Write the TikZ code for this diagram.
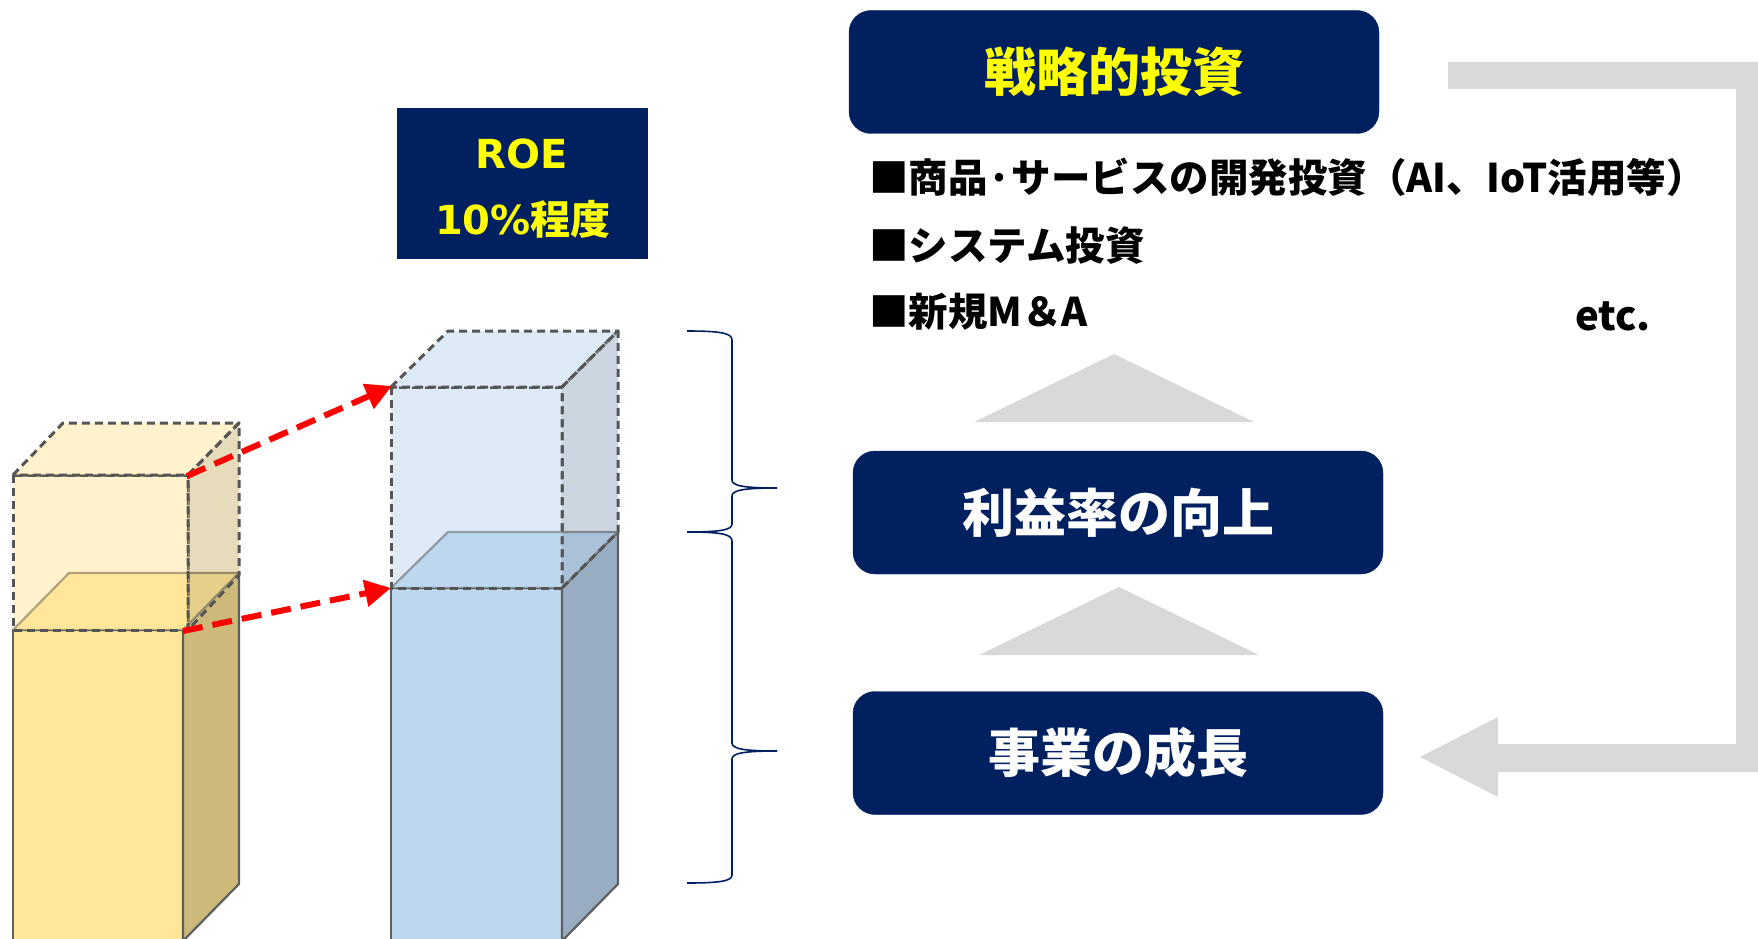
\documentclass[tikz,border=0pt]{standalone}
\usepackage{fontspec}
\setmainfont{DejaVu Sans}
\newfontfamily\jp{Noto Sans CJK JP}
\usetikzlibrary{arrows.meta}
\definecolor{navy}{RGB}{0,32,96}
\definecolor{ylw}{RGB}{255,255,0}
\definecolor{lgray}{RGB}{217,217,217}
\definecolor{yfront}{RGB}{255,230,153}
\definecolor{yside}{RGB}{205,185,122}
\definecolor{bfront}{RGB}{189,215,238}
\definecolor{bside}{RGB}{152,173,194}
\definecolor{edge}{RGB}{95,95,95}
\definecolor{dedge}{RGB}{85,85,85}
\tikzset{
  navybox/.style={fill=navy, draw=navy, rounded corners=22pt, minimum width=530pt, minimum height=123pt, inner sep=0pt,
    font=\jp\bfseries\fontsize{52}{56}\selectfont},
  solidface/.style={draw=edge, line width=2.2pt, line join=round},
  ghostface/.style={draw=dedge, line width=3pt, dash pattern=on 8pt off 5pt, fill opacity=0.5, line join=round},
  redarrow/.style={draw=red, line width=6pt, dash pattern=on 20pt off 10pt, -{Triangle[length=26pt,width=26pt]}},
  bullet/.style={anchor=base west, inner sep=0pt, font=\jp\bfseries\fontsize{39.5}{42}\selectfont},
  brace/.style={draw=navy, line width=1.6pt},
  grayshape/.style={fill=lgray, draw=none}
}
\begin{document}
\begin{tikzpicture}[x=1pt,y=-1pt]
\useasboundingbox (0,0) rectangle (1758,939);
\begin{scope}
\clip (0,0) rectangle (1758,939);
% yellow solid bar
\fill[yfront] (13,630) rectangle (183,941);
\draw[solidface, fill=yfront] (13,630) -- (69,573) -- (239,573) -- (183,630) -- cycle;
\draw[solidface, fill=yside] (183,630) -- (239,573) -- (239,884) -- (183,941) -- cycle;
\draw[solidface] (13,941) -- (13,630) -- (183,630) -- (183,941);
% yellow ghost
\path[ghostface, fill=yfront] (13,475) rectangle (188,630);
\path[ghostface, fill=yfront] (13,475) -- (63,423) -- (239,423) -- (188,475) -- cycle;
\path[ghostface, fill=yside] (188,475) -- (239,423) -- (239,575) -- (188,630) -- cycle;
% blue solid bar
\fill[bfront] (391,588) rectangle (562,941);
\draw[solidface, fill=bfront] (391,588) -- (448,532) -- (618,532) -- (562,588) -- cycle;
\draw[solidface, fill=bside] (562,588) -- (618,532) -- (618,884) -- (562,941) -- cycle;
\draw[solidface] (391,941) -- (391,588) -- (562,588) -- (562,941);
% blue ghost
\path[ghostface, fill=bfront] (391,387) rectangle (562,588);
\path[ghostface, fill=bfront] (391,387) -- (448,331) -- (618,331) -- (562,387) -- cycle;
\path[ghostface, fill=bside] (562,387) -- (618,331) -- (618,532) -- (562,588) -- cycle;
\end{scope}
% red arrows
\coordinate (yTop) at (187,476);
\coordinate (yBot) at (183,631);
\coordinate (bTop) at (392,386);
\coordinate (bBot) at (391,588);
\draw[redarrow] (yTop) -- (bTop);
\draw[redarrow] (yBot) -- (bBot);
% ROE box
\node[fill=navy, minimum width=251pt, minimum height=151pt, inner sep=0pt] (roe) at (522.5,183.5) {};
\node[text=ylw, font=\bfseries\fontsize{40}{42}\selectfont, inner sep=0pt] (roe1) at (522,154) {ROE};
\node[text=ylw, font=\bfseries\fontsize{40}{42}\selectfont, inner sep=0pt] (roe2) at (523,219) {10\%{\jp 程度}};
% braces
\draw[brace] (687,331) .. controls (720,331) and (732,333) .. (732,340) -- (732,480)
  .. controls (732,486) and (745,488) .. (777,488);
\draw[brace] (777,488) .. controls (745,488) and (732,490) .. (732,496) -- (732,524)
  .. controls (732,530) and (720,532) .. (687,532);
\draw[brace] (687,532) .. controls (720,532) and (732,534) .. (732,541) -- (732,743)
  .. controls (732,749) and (745,751) .. (777,751);
\draw[brace] (777,751) .. controls (745,751) and (732,753) .. (732,759) -- (732,875)
  .. controls (732,881) and (720,883) .. (687,883);
% navy boxes
\node[navybox, text=ylw] (strat) at (1114,72) {戦略的投資};
\node[navybox, text=white] (profit) at (1118,512.5) {利益率の向上};
\node[navybox, text=white] (growth) at (1118,753) {事業の成長};
% bullets
\node[bullet] (b1) at (869,192) {■商品·サービスの開発投資（AI、IoT活用等）};
\node[bullet] (b2) at (869,260) {■システム投資};
\node[bullet] (b3) at (869,326) {■新規M＆A};
\node[bullet, font=\jp\bfseries\fontsize{40}{42}\selectfont] (etc) at (1575,330) {etc.};
% gray triangles
\fill[grayshape] (974,422) -- (1114,354) -- (1254,422) -- cycle;
\fill[grayshape] (979,655) -- (1119,587) -- (1259,655) -- cycle;
% gray L arrow
\coordinate (gStart) at (1448,62);
\coordinate (gTip) at (1420,757);
\fill[grayshape] (gStart) -- (1758,62) -- (1758,772) -- (1498,772) -- (1498,797) -- (gTip)
  -- (1498,717) -- (1498,744) -- (1736,744) -- (1736,89) -- (1448,89) -- cycle;
\end{tikzpicture}
\end{document}
